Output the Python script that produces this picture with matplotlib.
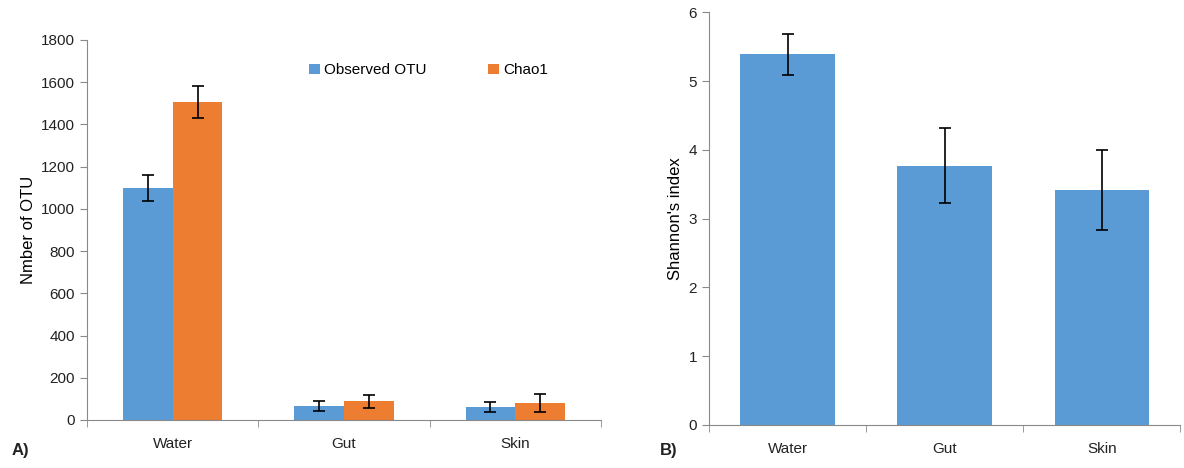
import numpy as np
import matplotlib.pyplot as plt

plt.rcParams['font.family'] = ['Liberation Sans', 'DejaVu Sans']

sites = ["Water", "Gut", "Skin"]
observed = [1100, 68, 62]
observed_err = [62, 24, 24]
chao1 = [1505, 88, 80]
chao1_err = [75, 30, 42]
shannon = [5.39, 3.77, 3.41]
shannon_err = [0.30, 0.54, 0.58]

blue = "#5B9BD5"
orange = "#ED7D31"
grey = "#898989"

fig = plt.figure(figsize=(11.84, 4.68), dpi=100)
ax1 = fig.add_axes([0.0735, 0.1026, 0.434, 0.812])
ax2 = fig.add_axes([0.5988, 0.0919, 0.398, 0.882])


def style(ax):
    for s in ["top", "right"]:
        ax.spines[s].set_visible(False)
    for s in ["left", "bottom"]:
        ax.spines[s].set_color(grey)
    ax.tick_params(axis="y", colors=grey, labelcolor="#222222", labelsize=11, length=5)
    ax.set_xticks(np.arange(len(sites)), sites)
    ax.tick_params(axis="x", length=0, labelsize=11, labelcolor="#222222", pad=12)
    ax.set_xticks(np.arange(len(sites) + 1) - 0.5, minor=True)
    ax.tick_params(axis="x", which="minor", length=5, color=grey)
    ax.set_xlim(-0.5, len(sites) - 0.5)


x = np.arange(len(sites))
w = 0.29
ekw = dict(ecolor="black", capsize=4, elinewidth=1.2, capthick=1.2)
ax1.bar(x - w / 2, observed, w, color=blue, yerr=observed_err, error_kw=ekw, label="Observed OTU")
ax1.bar(x + w / 2, chao1, w, color=orange, yerr=chao1_err, error_kw=ekw, label="Chao1")
ax1.set_ylim(0, 1800)
ax1.set_yticks(np.arange(0, 1801, 200))
ax1.set_ylabel("Nmber of OTU", fontsize=12)
style(ax1)
ax1.legend(loc="upper center", bbox_to_anchor=(0.665, 0.975), ncol=2, frameon=False,
           fontsize=11, handlelength=0.7, handleheight=0.7, columnspacing=4, handletextpad=0.3)

ax2.bar(x, shannon, 0.6, color=blue, yerr=shannon_err, error_kw=ekw)
ax2.set_ylim(0, 6)
ax2.set_yticks(np.arange(0, 7, 1))
ax2.set_ylabel("Shannon's index", fontsize=12)
style(ax2)

fig.text(0.010, 0.028, "A)", fontsize=12, fontweight="bold", color="#222222")
fig.text(0.557, 0.028, "B)", fontsize=12, fontweight="bold", color="#222222")

fig.savefig("out.png", dpi=100)
